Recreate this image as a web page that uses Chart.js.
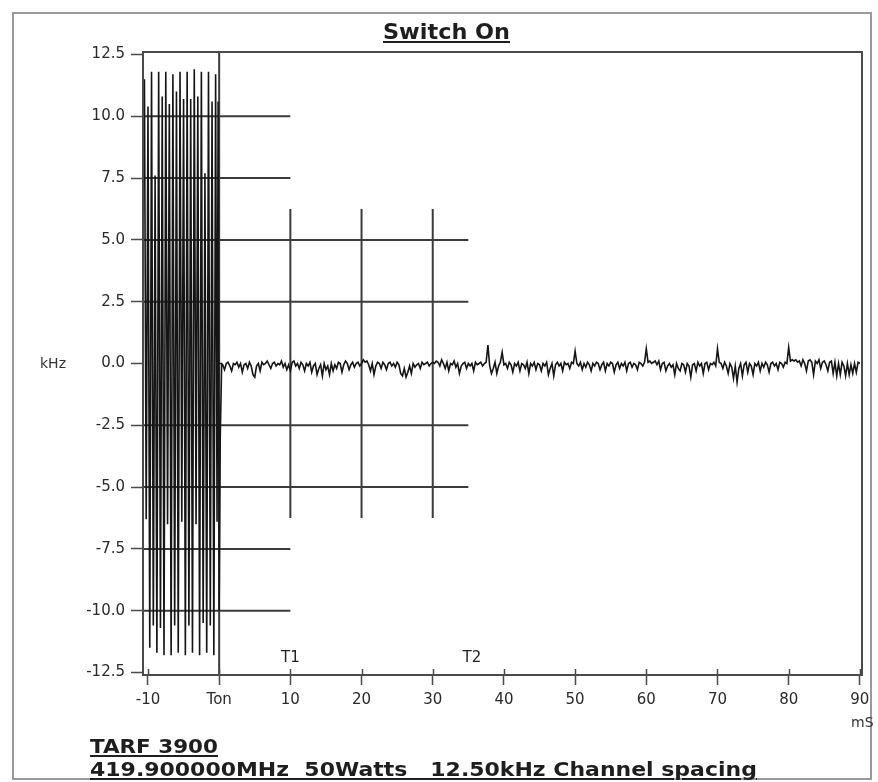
<!DOCTYPE html>
<html><head><meta charset="utf-8">
<script src="https://cdn.jsdelivr.net/npm/chart.js@4/dist/chart.umd.min.js"></script>
<style>
html,body{margin:0;padding:0;background:#fff;}
#wrap{position:relative;width:878px;height:782px;overflow:hidden;background:#fff;}
canvas{position:absolute;left:0;top:0;}
#frame{position:absolute;left:12px;top:12px;width:860px;height:768px;border:2px solid #9a9a9a;box-sizing:border-box;}
.t{position:absolute;font-family:"DejaVu Sans",sans-serif;color:#1e1e1e;white-space:pre;line-height:1;transform-origin:0 50%;}
.u{text-decoration:underline;text-decoration-thickness:2px;text-underline-offset:2px;}
</style></head><body>
<div id="wrap">
<div id="frame"></div>
<canvas id="c" width="878" height="782"></canvas>
<div class="t u" id="title" data-w="127" style="left:383px;top:22px;font-size:21px;font-weight:bold;">Switch On</div>
<div class="t" id="ylab" style="left:40px;top:356px;font-size:14px;color:#333;">kHz</div>
<div class="t" id="xlab" style="left:851px;top:715px;font-size:14px;color:#333;">mS</div>
<div class="t u" id="cap1" data-w="128" style="left:90px;top:736px;font-size:20px;font-weight:bold;">TARF 3900</div>
<div class="t u" id="cap2" data-w="667" style="left:90px;top:759px;font-size:20px;font-weight:bold;">419.900000MHz  50Watts   12.50kHz Channel spacing</div>
</div>
<script>
// ---- data ----
const xTicks = [-10, 0, 10, 20, 30, 40, 50, 60, 70, 80, 90];
const yTicks = [-12.5, -10, -7.5, -5, -2.5, 0, 2.5, 5, 7.5, 10, 12.5];
const tonLabel = 'Ton';

// modulation burst before switch-on (ms, kHz)
const burstTime = [-10.5, -10.25, -10.0, -9.75, -9.5, -9.25, -9.0, -8.75, -8.5, -8.25, -8.0, -7.75, -7.5, -7.25, -7.0, -6.75, -6.5, -6.25, -6.0, -5.75, -5.5, -5.25, -5.0, -4.75, -4.5, -4.25, -4.0, -3.75, -3.5, -3.25, -3.0, -2.75, -2.5, -2.25, -2.0, -1.75, -1.5, -1.25, -1.0, -0.75, -0.5, -0.3, -0.15, 0.0, 0.15, 0.35];
const burstFreq = [11.5, -6.3, 10.4, -11.5, 11.8, -10.6, 7.6, -11.7, 11.8, -10.7, 10.8, -11.8, 11.8, -6.5, 10.5, -11.8, 11.7, -10.6, 11.0, -11.7, 11.8, -6.4, 10.7, -11.8, 11.8, -10.6, 10.7, -11.7, 11.9, -6.5, 10.8, -11.8, 11.8, -10.5, 7.7, -11.7, 11.8, -10.6, 10.6, -11.8, 11.7, -6.4, 10.6, -10.0, -3.0, 0.0];

// settled frequency error after switch-on, sampled every 0.25 ms from 0.25 ms
const settleStart = 0.25;
const settleStep = 0.25;
const settleFreq = [
 0.0, -0.05, -0.25, 0.0, 0.05, -0.1, -0.3, 0.0, -0.05, 0.05, -0.15, 0.0, -0.35, -0.05, 0.0, -0.2, 0.05, -0.1, -0.45, -0.55,
 -0.1, 0.0, -0.3, 0.05, -0.05, 0.0, 0.1, -0.05, -0.2, 0.0, 0.05, -0.1, 0.0, -0.05, 0.1, -0.15, 0.0, -0.25, -0.05, -0.3,
 0.05, 0.1, -0.1, 0.0, -0.2, 0.05, -0.05, -0.3, 0.0, -0.1, 0.05, -0.35, -0.1, 0.0, -0.45, -0.2, -0.05, -0.5, 0.0, -0.25,
 -0.1, -0.45, 0.0, -0.3, -0.05, -0.2, 0.05, 0.0, -0.35, -0.05, 0.1, 0.0, -0.25, -0.05, 0.05, -0.15, 0.0, 0.05, -0.1, 0.0,
 0.15, 0.05, 0.1, -0.05, -0.3, 0.0, -0.45, -0.1, 0.05, 0.0, -0.2, 0.05, -0.05, -0.25, 0.0, 0.05, -0.1, 0.0, -0.15, 0.05,
 -0.05, -0.4, -0.5, -0.2, -0.55, -0.35, -0.1, -0.4, 0.0, -0.15, -0.05, 0.0, -0.2, 0.05, -0.05, 0.0, 0.05, -0.1, 0.0, 0.05,
 0.0, 0.1, 0.05, -0.1, 0.15, 0.0, -0.2, 0.05, -0.3, 0.0, -0.05, 0.1, -0.15, 0.0, -0.4, -0.1, 0.0, 0.05, -0.2, 0.0,
 -0.1, 0.0, -0.3, 0.05, -0.05, 0.0, 0.05, -0.1, 0.0, 0.05, 0.75, -0.1, -0.4, -0.2, 0.05, -0.4, -0.1, 0.05, 0.45, -0.05,
 0.0, -0.2, 0.05, -0.05, -0.35, 0.0, -0.1, 0.05, -0.3, 0.0, -0.05, -0.2, 0.05, -0.4, 0.0, -0.1, 0.05, -0.25, 0.0, -0.05,
 -0.3, 0.0, -0.1, 0.05, -0.45, -0.2, 0.0, -0.5, -0.05, 0.05, -0.1, 0.0, -0.3, 0.05, -0.05, 0.0, -0.2, 0.05, 0.0, 0.5,
 0.0, -0.1, 0.05, -0.25, 0.0, -0.15, 0.05, -0.05, -0.3, 0.0, -0.1, 0.05, 0.0, -0.25, -0.05, 0.05, -0.3, 0.0, -0.1, 0.05,
 0.0, -0.35, -0.05, 0.05, -0.2, 0.0, -0.1, 0.05, -0.3, 0.0, 0.05, -0.15, 0.0, -0.05, -0.25, 0.05, 0.0, -0.1, 0.05, 0.6,
 0.05, 0.1, 0.0, 0.05, 0.1, -0.05, 0.1, -0.25, 0.0, 0.05, -0.3, -0.1, 0.0, -0.15, -0.05, -0.45, 0.0, -0.2, -0.3, 0.0,
 -0.05, -0.35, 0.0, -0.1, -0.55, -0.05, 0.0, -0.3, 0.05, -0.1, 0.0, -0.4, 0.0, 0.05, -0.25, 0.0, -0.05, 0.05, -0.1, 0.6,
 0.05, 0.0, -0.2, 0.05, -0.1, -0.4, 0.0, -0.15, -0.6, -0.1, -0.75, -0.2, 0.0, -0.5, -0.05, 0.05, -0.35, 0.0, -0.1, -0.45,
 0.0, -0.1, 0.05, -0.3, 0.0, -0.15, 0.05, -0.05, -0.35, 0.0, 0.05, -0.1, 0.0, -0.25, 0.05, 0.0, -0.15, 0.05, 0.0, 0.65,
 0.1, 0.15, 0.1, 0.15, 0.05, 0.1, -0.1, 0.15, 0.0, -0.3, 0.1, 0.15, 0.05, -0.45, 0.1, 0.0, 0.15, -0.2, 0.05, 0.1,
 -0.05, -0.3, 0.05, 0.1, -0.4, 0.05, -0.5, 0.0, -0.45, 0.05, -0.1, -0.5, 0.0, -0.45, -0.05, -0.4, 0.0, -0.35, 0.05, 0.0
];

// measurement cursor lines
const xMin = -10.7, xMax = 90.3, yMin = -12.6, yMax = 12.6;
const shortLevels = [10, 7.5, -7.5, -10];
const shortEnd = 10;
const longLevels = [5, 2.5, -2.5, -5];
const longEnd = 35;
const cursorTimes = [10, 20, 30];
const cursorSpan = 6.25;
const tonTime = 0;
const markerNames = ['T1', 'T2'];
const markerTimes = [10, 35.5];
const markerLevel = -11.9;

// ---- build ----
const trace = burstTime.map((t, i) => ({x: t, y: burstFreq[i]}))
  .concat(settleFreq.map((v, i) => ({x: settleStart + i * settleStep, y: v})));

const cursors = [];
shortLevels.forEach(l => { cursors.push({x: xMin, y: l}, {x: shortEnd, y: l}, {x: shortEnd, y: null}); });
longLevels.forEach(l => { cursors.push({x: xMin, y: l}, {x: longEnd, y: l}, {x: longEnd, y: null}); });
cursorTimes.forEach(t => { cursors.push({x: t, y: -cursorSpan}, {x: t, y: cursorSpan}, {x: t, y: null}); });
cursors.push({x: tonTime, y: yMin}, {x: tonTime, y: yMax});

const framePlugin = {
  id: 'frame',
  afterDatasetsDraw(chart) {
    const {ctx, chartArea: a, scales: {x, y}} = chart;
    ctx.save();
    ctx.strokeStyle = '#4a4a4a';
    ctx.lineWidth = 2;
    ctx.strokeRect(a.left, a.top, a.right - a.left, a.bottom - a.top);
    ctx.lineWidth = 1.5;
    xTicks.forEach(v => {
      const px = Math.round(x.getPixelForValue(v)) + 0.5;
      ctx.beginPath(); ctx.moveTo(px, a.bottom); ctx.lineTo(px, a.bottom - 6); ctx.stroke();
    });
    ctx.font = '15px "DejaVu Sans"';
    ctx.fillStyle = '#222';
    ctx.textAlign = 'center';
    ctx.textBaseline = 'middle';
    markerNames.forEach((n, i) => ctx.fillText(n, x.getPixelForValue(markerTimes[i]), y.getPixelForValue(markerLevel)));
    ctx.restore();
  }
};

new Chart(document.getElementById('c'), {
  type: 'line',
  data: {
    datasets: [
      {data: cursors, borderColor: '#3c3c3c', borderWidth: 2, pointRadius: 0, spanGaps: false, tension: 0, order: 2},
      {data: trace, borderColor: '#151515', borderWidth: 1.6, pointRadius: 0, tension: 0, order: 1}
    ]
  },
  options: {
    responsive: false,
    animation: false,
    devicePixelRatio: 1,
    layout: {padding: {left: 0, top: 52, right: 16, bottom: 0}},
    plugins: {legend: {display: false}, tooltip: {enabled: false}, title: {display: false}},
    scales: {
      x: {
        type: 'linear', min: xMin, max: xMax,
        afterBuildTicks: s => { s.ticks = xTicks.map(v => ({value: v})); },
        afterFit: s => { s.height = 107; },
        ticks: {
          autoSkip: false, maxRotation: 0, padding: 6, color: '#2a2a2a',
          font: {family: 'DejaVu Sans', size: 15},
          callback: v => v === tonTime ? tonLabel : String(v)
        },
        grid: {drawOnChartArea: false, drawTicks: true, tickLength: 10, tickColor: '#4a4a4a', tickWidth: 1.5},
        border: {display: true, color: '#4a4a4a', width: 2}
      },
      y: {
        type: 'linear', min: yMin, max: yMax,
        afterBuildTicks: s => { s.ticks = yTicks.map(v => ({value: v})); },
        afterFit: s => { s.width = 143; },
        ticks: {
          autoSkip: false, padding: 6, color: '#2a2a2a',
          font: {family: 'DejaVu Sans', size: 15},
          callback: v => Number(v).toFixed(1)
        },
        grid: {drawOnChartArea: false, drawTicks: true, tickLength: 12, tickColor: '#4a4a4a', tickWidth: 1.5},
        border: {display: true, color: '#4a4a4a', width: 2}
      }
    }
  },
  plugins: [framePlugin]
});

// fit caption widths to the reference
document.querySelectorAll('[data-w]').forEach(el => {
  const w = el.getBoundingClientRect().width;
  const target = Number(el.dataset.w);
  if (w > 0) el.style.transform = 'scaleX(' + (target / w).toFixed(3) + ')';
});
</script>
</body></html>
